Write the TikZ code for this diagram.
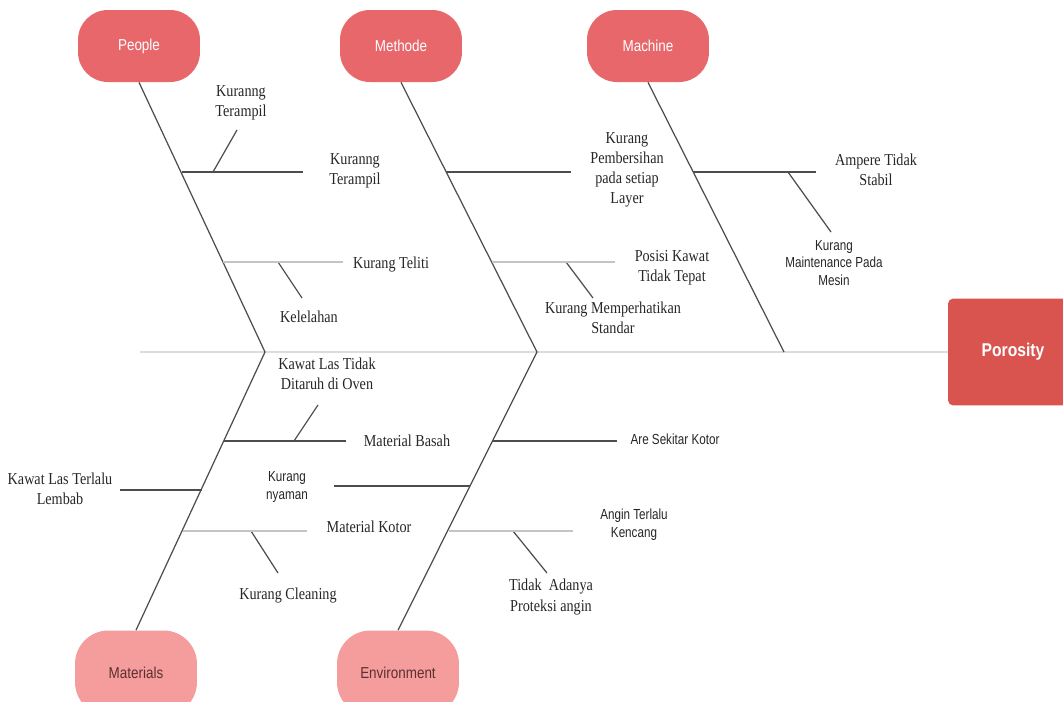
\documentclass[tikz,border=0pt]{standalone}
\usepackage{fontspec}
\setmainfont{Liberation Serif}
\newfontfamily\lblfont[FakeStretch=0.85]{Liberation Serif}
\newfontfamily\catfont[FakeStretch=0.85]{Liberation Sans}
\newfontfamily\notefont[FakeStretch=0.8]{Liberation Sans}
\definecolor{headred}{HTML}{E8676B}
\definecolor{headpink}{HTML}{F59C9C}
\definecolor{effred}{HTML}{D9534F}
\definecolor{lowtext}{HTML}{5C3030}
\definecolor{bonegray}{HTML}{4D4D4D}
\definecolor{twiggray}{HTML}{C4C4C4}
\definecolor{spinegray}{HTML}{DCDCDC}
\tikzset{
  cat/.style={rounded corners=17pt, minimum width=2.44cm, minimum height=1.44cm,
    fill=headred, text=white, font=\catfont\fontsize{9}{11}\selectfont},
  catlow/.style={cat, minimum height=1.7cm, rounded corners=19pt, fill=headpink, text=lowtext},
  effect/.style={rounded corners=3pt, minimum width=2.6cm, minimum height=2.14cm,
    fill=effred, text=white, font=\catfont\bfseries\fontsize{10.5}{12}\selectfont},
  lbl/.style={align=center, text=black!85, font=\lblfont\fontsize{9.5}{11.5}\selectfont},
  note/.style={align=center, text=black!85, font=\notefont\fontsize{8.3}{10.2}\selectfont},
  bone/.style={draw=bonegray, line width=0.7pt},
  twig/.style={draw=twiggray, line width=0.7pt},
  spine/.style={draw=spinegray, line width=0.8pt}
}

\begin{document}
\begin{tikzpicture}[x=0.02cm,y=-0.02cm]

    \path[use as bounding box, clip] (0,0) rectangle (1063,701);

    \node[cat] (people) at (139,46) {People};
    \node[cat] (methode) at (401,46) {Methode};
    \node[cat] (machine) at (648,46) {Machine};
    \node[catlow] (materials) at (136,673) {Materials};
    \node[catlow] (environment) at (398,673) {Environment};
    \node[effect] (porosity) at (1013,352) {Porosity};

    \coordinate (s0) at (140,352);
    \coordinate (s1) at (265,352);
    \coordinate (s2) at (537,352);
    \coordinate (s3) at (784,352);

    % branch points and their ends
    \coordinate (pa) at (182,172);  \coordinate (pae) at (303,172);
    \coordinate (pat) at (213,172); \coordinate (pate) at (237,130);
    \coordinate (pb) at (223,262);  \coordinate (pbe) at (343,262);
    \coordinate (pbt) at (278,262); \coordinate (pbte) at (302,298);

    \coordinate (ma) at (446,172);  \coordinate (mae) at (571,172);
    \coordinate (mb) at (492,262);  \coordinate (mbe) at (615,262);
    \coordinate (mbt) at (566,262); \coordinate (mbte) at (593,298);

    \coordinate (ca) at (693,172);  \coordinate (cae) at (816,172);
    \coordinate (cat) at (788,172); \coordinate (cate) at (831,232);

    \coordinate (ta) at (224,441);  \coordinate (tae) at (346,441);
    \coordinate (tat) at (294,441); \coordinate (tate) at (318,405);
    \coordinate (tb) at (202,490);  \coordinate (tbe) at (120,490);
    \coordinate (tc) at (183,531);  \coordinate (tce) at (307,531);
    \coordinate (tct) at (251,531); \coordinate (tcte) at (278,573);

    \coordinate (ea) at (493,441);  \coordinate (eae) at (617,441);
    \coordinate (eb) at (470,486);  \coordinate (ebe) at (334,486);
    \coordinate (ec) at (449,531);  \coordinate (ece) at (573,531);
    \coordinate (ect) at (513,531); \coordinate (ecte) at (547,573);

    \draw[spine] (s0) -- (porosity);
    \draw[bone] (people.south) -- (s1) -- (materials.north);
    \draw[bone] (methode.south) -- (s2) -- (environment.north);
    \draw[bone] (machine.south) -- (s3);

    \foreach \a/\b in {pa/pae, pat/pate, pbt/pbte, ma/mae, mbt/mbte, ca/cae, cat/cate,
      ta/tae, tat/tate, tb/tbe, tct/tcte, ea/eae, eb/ebe, ect/ecte}
    \draw[bone] (\a) -- (\b);

    \foreach \a/\b in {pb/pbe, mb/mbe, tc/tce, ec/ece}
    \draw[twig] (\a) -- (\b);

    \node[lbl] (l1) at (241,103) {Kuranng\\Terampil};
    \node[lbl] (l2) at (355,171) {Kuranng\\Terampil};
    \node[lbl] (l3) at (391,265) {Kurang Teliti};
    \node[lbl] (l4) at (309,317) {Kelelahan};
    \node[lbl] (l5) at (627,170) {Kurang\\Pembersihan\\pada setiap\\Layer};
    \node[lbl] (l6) at (672,268) {Posisi Kawat\\Tidak Tepat};
    \node[lbl] (l7) at (613,318) {Kurang Memperhatikan\\Standar};
    \node[lbl] (l8) at (876,170) {Ampere Tidak\\Stabil};
    \node[note] (l9) at (834,263) {Kurang\\Maintenance Pada\\Mesin};
    \node[lbl] (l10) at (327,374) {Kawat Las Tidak\\Ditaruh di Oven};
    \node[lbl] (l11) at (407,441) {Material Basah};
    \node[lbl] (l12) at (60,489) {Kawat Las Terlalu\\Lembab};
    \node[note] (l13) at (287,487) {Kurang\\nyaman};
    \node[lbl] (l14) at (369,527) {Material Kotor};
    \node[lbl] (l15) at (288,596) {Kurang Cleaning};
    \node[note] (l16) at (675,439) {Are Sekitar Kotor};
    \node[note] (l17) at (634,525) {Angin Terlalu\\Kencang};
    \node[lbl] (l18) at (551,597) {Tidak\ \ Adanya\\Proteksi angin};

  \end{tikzpicture}
\end{document}
